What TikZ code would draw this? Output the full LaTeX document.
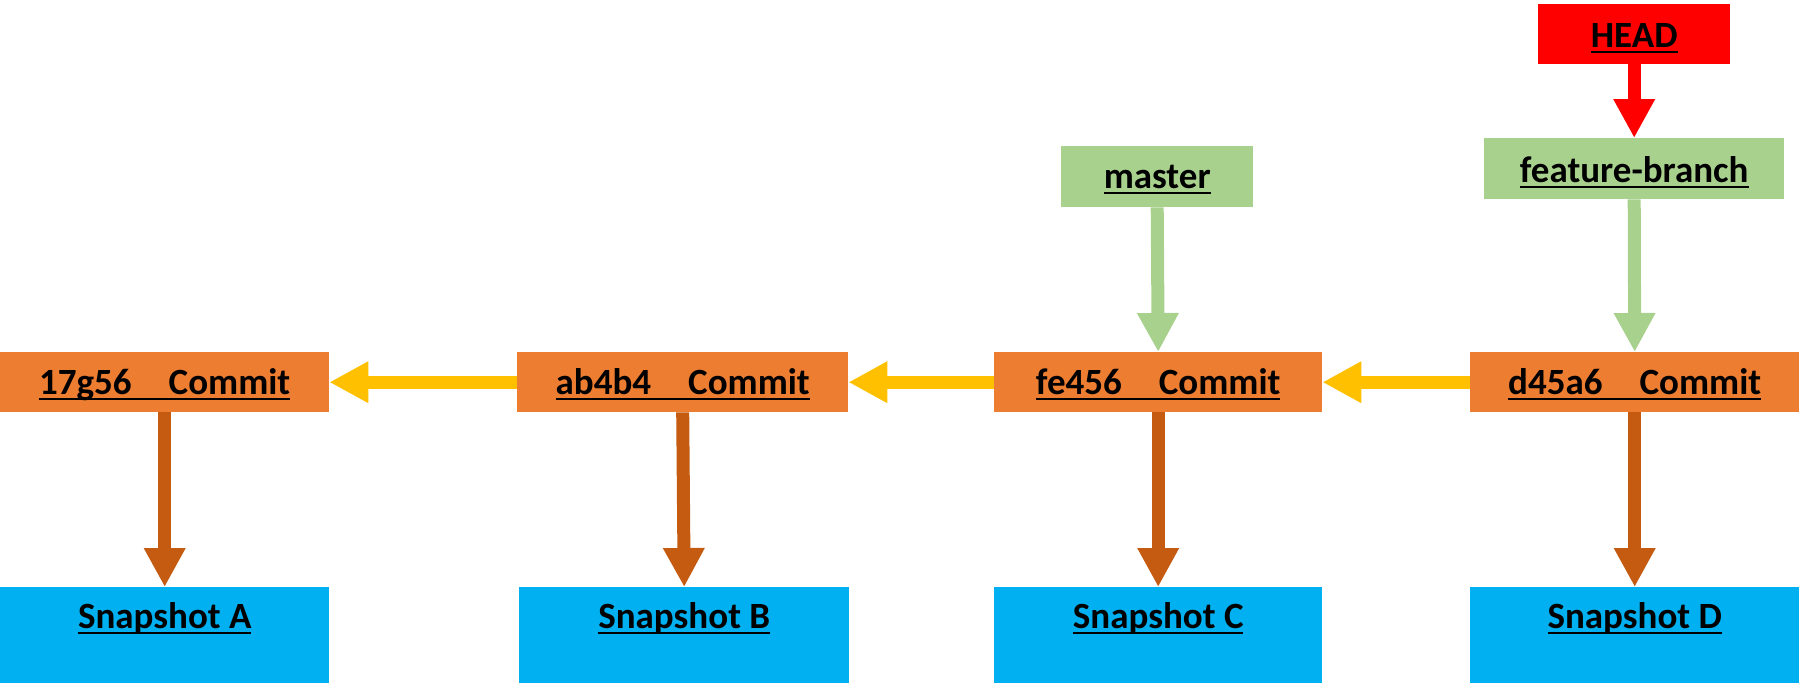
\documentclass[tikz,border=0pt]{standalone}
\usepackage{fontspec}
\setmainfont{Carlito}
\usetikzlibrary{arrows.meta}
\definecolor{corange}{HTML}{ED7D31}
\definecolor{cblue}{HTML}{00B0F0}
\definecolor{cgreen}{HTML}{A9D18E}
\definecolor{cred}{HTML}{FF0000}
\definecolor{cyellow}{HTML}{FFC000}
\definecolor{cbrown}{HTML}{C55A11}
\newcommand\myul[1]{\setbox0\hbox{#1}\makebox[0pt][l]{\rule[-6pt]{\wd0}{2.2pt}}\box0}
\tikzset{
  box/.style={draw=none, inner sep=0pt, anchor=north west, align=center,
    font=\fontsize{37}{44}\selectfont\bfseries, text height=42pt, text depth=18pt},
  commitbox/.style={box, fill=corange, minimum width=329pt},
  snapbox/.style={box, fill=cblue, minimum width=329pt, text height=41pt, text depth=55pt},
  branchbox/.style={box, fill=cgreen},
  headbox/.style={box, fill=cred, text height=43pt, text depth=17pt},
  fat/.style={line width=13pt, -{Triangle[length=39pt,width=39pt]}},
}
\begin{document}
\begin{tikzpicture}[x=1pt,y=-1pt]
\useasboundingbox (0,0) rectangle (1799,683);
% commits
\node[commitbox] (c1) at (0,352) {\myul{17g56\hspace{1em}Commit}};
\node[commitbox, minimum width=331pt] (c2) at (517,352) {\myul{ab4b4\hspace{1em}Commit}};
\node[commitbox, minimum width=328pt] (c3) at (994,352) {\myul{fe456\hspace{1em}Commit}};
\node[commitbox] (c4) at (1470,352) {\myul{d45a6\hspace{1em}Commit}};
% snapshots
\node[snapbox] (s1) at (0,587) {\myul{Snapshot A}};
\node[snapbox, minimum width=330pt] (s2) at (519,587) {\myul{Snapshot B}};
\node[snapbox, minimum width=328pt] (s3) at (994,587) {\myul{Snapshot C}};
\node[snapbox] (s4) at (1470,587) {\myul{Snapshot D}};
% branches
\node[branchbox, minimum width=192pt, text height=42pt, text depth=19pt] (master) at (1061,146) {\myul{master}};
\node[branchbox, minimum width=300pt, text height=44pt, text depth=17pt] (feat) at (1484,138) {\myul{feature-branch}};
\node[headbox, minimum width=192pt] (head) at (1538,4) {\myul{HEAD}};
% parent links
\draw[fat, cyellow] (c2.west) -- (c1.east);
\draw[fat, cyellow] (c3.west) -- (c2.east);
\draw[fat, cyellow] (c4.west) -- (c3.east);
% snapshot links
\draw[fat, cbrown] (c1.south) -- (s1.north);
\draw[fat, cbrown] (c2.south) -- (s2.north);
\draw[fat, cbrown] (c3.south) -- (s3.north);
\draw[fat, cbrown] (c4.south) -- (s4.north);
% refs
\draw[fat, cgreen] (master.south) -- (c3.north);
\draw[fat, cgreen] (feat.south) -- (c4.north);
\draw[fat, cred] (head.south) -- (feat.north);
\end{tikzpicture}
\end{document}
